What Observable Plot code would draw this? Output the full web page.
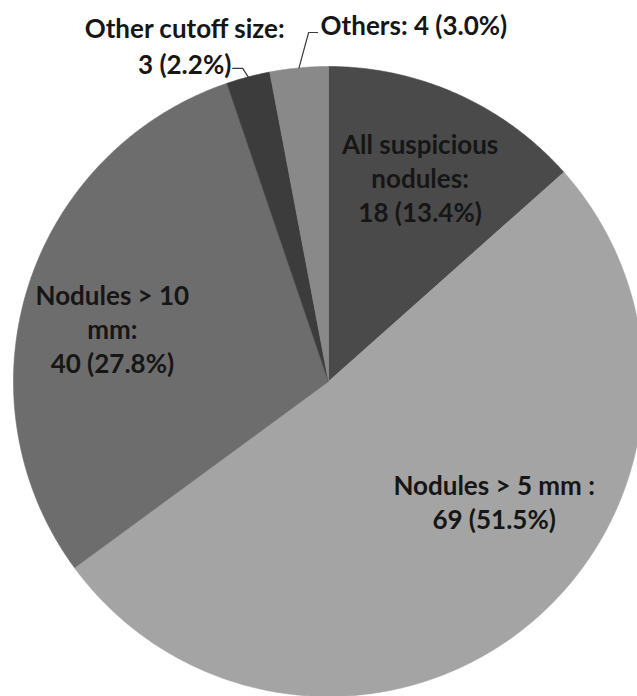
<!DOCTYPE html>
<html>
<head>
<meta charset="utf-8">
<script src="https://cdn.jsdelivr.net/npm/d3@7"></script>
<script src="https://cdn.jsdelivr.net/npm/@observablehq/plot@0.6"></script>
<style>
  html, body { margin: 0; padding: 0; background: #fff; }
  #chart { width: 637px; height: 696px; overflow: hidden; }
</style>
</head>
<body>
<div id="chart"></div>
<script>
// ---- data ----
const names = ["All suspicious nodules", "Nodules > 5 mm", "Nodules > 10 mm", "Other cutoff size", "Others"];
const counts = [18, 69, 40, 3, 4];
const labelTexts = [
  "All suspicious\nnodules:\n18 (13.4%)",
  "Nodules > 5 mm :\n69 (51.5%)",
  "Nodules > 10\nmm:\n40 (27.8%)",
  "Other cutoff size:\n3 (2.2%)",
  "Others: 4 (3.0%)"
];
const colors = ["#4a4a4a", "#a4a4a4", "#6d6d6d", "#3c3c3c", "#898989"];

// ---- layout (pixels) ----
const W = 637, H = 696;
const CX = 328, CY = 381, R = 315;
const px = u => u / R; // pixels -> data units

// inside labels: radius fraction along mid-angle + pixel nudge
const inside = [
  {i: 0, r: 0.71, dx: 0, dy: 0},
  {i: 1, r: 0.70, dx: 27, dy: -52},
  {i: 2, r: 0.706, dx: -4, dy: 13}
];
// outside labels: elbow offset from edge, horizontal run, text offset from leader end
const outside = [
  {i: 3, ex: -5.5, ey: -8.6, run: -10, tdx: -48, tdy: -24, anchor: "middle"},
  {i: 4, ex: 9.6, ey: -35.4, run: 9, tdx: 3, tdy: -6, anchor: "start"}
];

const arcs = d3.pie().sort(null).value(d => d)(counts);
const pt = (a, r) => [r * Math.sin(a), r * Math.cos(a)];

// slice polygons
const polys = [];
arcs.forEach((a, k) => {
  const n = Math.max(4, Math.ceil((a.endAngle - a.startAngle) / (Math.PI / 360)));
  polys.push({name: names[k], x: 0, y: 0});
  for (let j = 0; j <= n; j++) {
    const t = a.startAngle + (a.endAngle - a.startAngle) * j / n;
    const [x, y] = pt(t, 1);
    polys.push({name: names[k], x, y});
  }
  polys.push({name: names[k], x: 0, y: 0});
});

const mid = k => (arcs[k].startAngle + arcs[k].endAngle) / 2;

const insideLabels = inside.map(o => {
  const [x, y] = pt(mid(o.i), o.r);
  return {x: x + px(o.dx), y: y - px(o.dy), text: labelTexts[o.i]};
});

const leaders = [];
const outsideLabels = [];
outside.forEach(o => {
  const [x0, y0] = pt(mid(o.i), 1);
  const x1 = x0 + px(o.ex), y1 = y0 - px(o.ey);
  const x2 = x1 + px(o.run), y2 = y1;
  leaders.push({id: o.i, x: x0, y: y0}, {id: o.i, x: x1, y: y1}, {id: o.i, x: x2, y: y2});
  outsideLabels.push({x: x2 + px(o.tdx), y: y2 - px(o.tdy), text: labelTexts[o.i], anchor: o.anchor});
});

const font = "Lato, 'Open Sans', sans-serif";
const FS = 26;

const plot = Plot.plot({
  width: W,
  height: H,
  margin: 0,
  x: {domain: [-CX / R, (W - CX) / R], axis: null},
  y: {domain: [-(H - CY) / R, CY / R], axis: null},
  color: {domain: names, range: colors},
  style: {fontFamily: font, background: "#fff"},
  marks: [
    Plot.line(polys, {x: "x", y: "y", z: "name", fill: "name", stroke: "name", strokeWidth: 0.6, curve: "linear"}),
    Plot.line(leaders, {x: "x", y: "y", z: "id", stroke: "#3a3a3a", strokeWidth: 1.2}),
    Plot.text(insideLabels, {x: "x", y: "y", text: "text", fontSize: FS, fontWeight: 700, fill: "#161616", lineHeight: 1.31, textAnchor: "middle", lineAnchor: "middle"}),
    Plot.text(outsideLabels.filter(d => d.anchor === "middle"), {x: "x", y: "y", text: "text", fontSize: FS, fontWeight: 700, fill: "#161616", lineHeight: 1.385, textAnchor: "middle", lineAnchor: "middle"}),
    Plot.text(outsideLabels.filter(d => d.anchor === "start"), {x: "x", y: "y", text: "text", fontSize: FS, fontWeight: 700, fill: "#161616", textAnchor: "start", lineAnchor: "middle"})
  ]
});
document.getElementById("chart").appendChild(plot);
</script>
</body>
</html>
